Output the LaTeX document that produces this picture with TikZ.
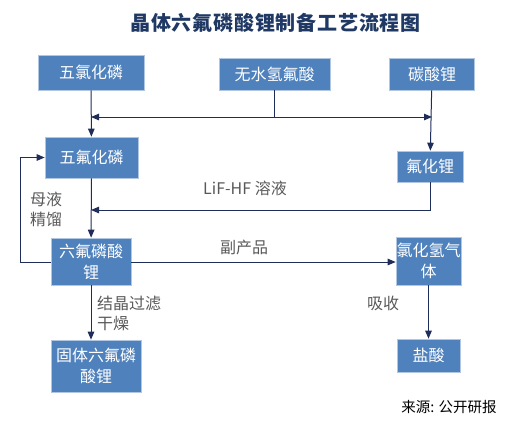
\documentclass[tikz,border=0pt]{standalone}
\usepackage{fontspec}
\setmainfont{Noto Sans CJK SC}
\definecolor{box_blue}{RGB}{79, 129, 189}
\definecolor{line_navy}{RGB}{31, 45, 90}
\definecolor{title_navy}{RGB}{31, 56, 100}
\definecolor{note_grey}{RGB}{89, 89, 89}
\usepackage{tikz}
\usetikzlibrary{arrows.meta, positioning, calc}
\tikzset{
  box/.style={rectangle, fill=box_blue, draw=box_blue!45!white, line width=0.6pt, text=white,
    align=center, inner sep=0pt, font=\fontsize{16}{21}\selectfont},
  note/.style={text=note_grey, align=left, inner sep=0pt, font=\fontsize{16}{20}\selectfont},
  flow/.style={draw=line_navy, line width=1pt, -{Triangle[length=8pt, width=6.5pt]}},
  plain/.style={draw=line_navy, line width=1pt}
}

\begin{document}
\begin{tikzpicture}[x=1pt, y=-1pt]
  \useasboundingbox (0,0) rectangle (505,424);
  \node[text=title_navy, font=\fontsize{20}{24}\selectfont\bfseries\addfontfeatures{LetterSpace=4}] (title) at (275.5, 23) {晶体六氟磷酸锂制备工艺流程图};

  \node[box, minimum width=106pt, minimum height=35pt] (pcl5) at (91, 72.5) {五氯化磷};
  \node[box, minimum width=111pt, minimum height=32pt] (hf) at (274.5, 74) {无水氢氟酸};
  \node[box, minimum width=85pt, minimum height=32pt] (li2co3) at (432, 74) {碳酸锂};
  \node[box, minimum width=93pt, minimum height=41pt] (pf5) at (91.5, 157.5) {五氟化磷};
  \node[box, minimum width=66pt, minimum height=31pt] (lif) at (430, 166.5) {氟化锂};
  \node[box, minimum width=80pt, minimum height=47pt] (lipf6) at (91, 261.5) {六氟磷酸\\锂};
  \node[box, minimum width=65pt, minimum height=48pt] (hcl) at (428.5, 261) {氯化氢气\\体};
  \node[box, minimum width=63pt, minimum height=33pt] (acid) at (428.5, 355.5) {盐酸};
  \node[box, minimum width=90pt, minimum height=52pt] (solid) at (96, 366) {固体六氟磷\\酸锂};

  \coordinate (split) at (274.5, 117);
  \coordinate (hfleft) at (pcl5 |- split);
  \coordinate (hfright) at (li2co3 |- split);
  \coordinate (lifin) at (91, 210);
  \coordinate (loop) at (20, 262);

  \draw[flow] (pcl5) -- (pf5);
  \draw[plain] (hf) -- (split);
  \draw[flow] (split) -- (hfleft);
  \draw[flow] (split) -- (hfright);
  \draw[flow] (li2co3) -- (lif);
  \draw[flow] (pf5) -- (lipf6);
  \draw[flow] (lif.south) |- (lifin);
  \draw[flow] (lipf6.west |- loop) -- (loop) |- (pf5.west);
  \draw[flow] (lipf6.east |- loop) -- (hcl.west |- loop);
  \draw[flow] (hcl) -- (acid);
  \draw[flow] (lipf6.south) -- (lipf6.south |- solid.north);

  \node[note] (liquor) at (46, 209.5) {母液\\精馏};
  \node[note] (lifhf) at (245, 188) {LiF-HF 溶液};
  \node[note] (byprod) at (244, 247) {副产品};
  \node[note, anchor=west] (cryst) at (97, 313) {结晶过滤\\干燥};
  \node[note] (absorb) at (383, 303) {吸收};
  \node[font=\fontsize{14.5}{17}\selectfont, inner sep=0pt] (source) at (449, 407) {来源: 公开研报};
\end{tikzpicture}
\end{document}
